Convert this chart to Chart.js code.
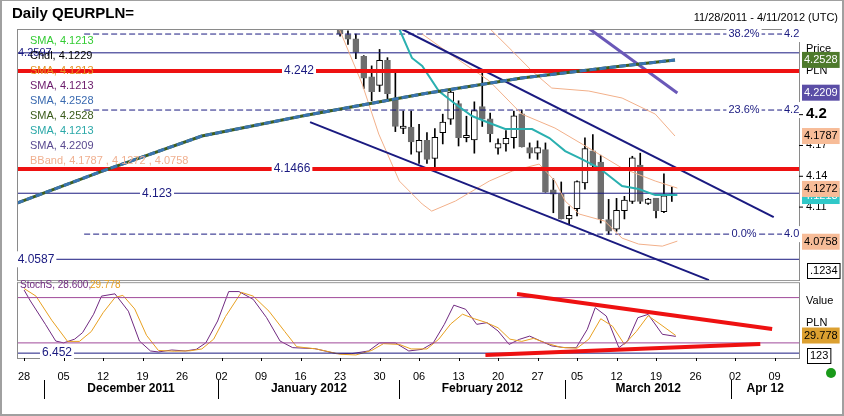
<!DOCTYPE html>
<html><head><meta charset="utf-8">
<script src="https://cdn.jsdelivr.net/npm/chart.js@4"></script>
<style>html,body{margin:0;padding:0;background:#fff}#w{position:relative;width:844px;height:416px;box-sizing:border-box;border:2px solid #a0a0a0;border-top:1px solid #a0a0a0}canvas{position:absolute;left:0;top:0}</style>
</head><body><div id="w"><canvas id="c" width="844" height="416"></canvas></div>
<script>
// ---- data ----
const dayLabels=['28','05','12','19','26','02','09','16','23','30','06','13','20','27','05','12','19','26','02','09'];
const monthNames=['December 2011','January 2012','February 2012','March 2012','Apr 12'];
const monthStartIdx=[3,25,48,69,90];
const candleStart=40;
const opens =[4.282,4.277,4.273,4.256,4.236,4.228,4.252,4.215,4.186,4.187,4.163,4.174,4.157,4.182,4.195,4.210,4.177,4.175,4.207,4.195,4.167,4.171,4.177,4.200,4.167,4.162,4.165,4.126,4.122,4.098,4.108,4.133,4.164,4.153,4.097,4.088,4.106,4.115,4.150,4.113,4.118,4.105,4.121];
const highs =[4.283,4.281,4.278,4.257,4.247,4.263,4.255,4.240,4.203,4.203,4.190,4.182,4.186,4.200,4.225,4.213,4.198,4.212,4.240,4.201,4.176,4.184,4.203,4.204,4.172,4.174,4.172,4.137,4.134,4.110,4.135,4.177,4.180,4.160,4.117,4.118,4.120,4.159,4.162,4.118,4.118,4.142,4.129];
const lows  =[4.276,4.268,4.254,4.225,4.213,4.222,4.215,4.183,4.181,4.161,4.152,4.152,4.148,4.171,4.190,4.169,4.173,4.162,4.188,4.173,4.161,4.164,4.167,4.168,4.157,4.156,4.124,4.104,4.098,4.093,4.101,4.127,4.145,4.094,4.083,4.086,4.098,4.113,4.113,4.112,4.099,4.104,4.115];
const closes=[4.278,4.273,4.260,4.235,4.222,4.252,4.220,4.188,4.188,4.173,4.174,4.156,4.177,4.192,4.221,4.177,4.179,4.203,4.195,4.181,4.171,4.176,4.198,4.168,4.162,4.167,4.124,4.122,4.098,4.101,4.134,4.166,4.150,4.098,4.086,4.106,4.116,4.157,4.115,4.117,4.106,4.120,4.122];
const smaLong=[[-0.9,4.1134],[9.9,4.1446],[22.5,4.1787],[35.2,4.1982],[50.4,4.2196],[63.0,4.2352],[75.7,4.2469],[82.4,4.2527]];
const smaTeal=[[47.5,4.2829],[49.1,4.2547],[50.4,4.2469],[52.5,4.2225],[54.6,4.2099],[56.7,4.1982],[58.9,4.1914],[60.9,4.1855],[64.3,4.1855],[66.5,4.1767],[68.5,4.1641],[70.6,4.1563],[72.8,4.1475],[75.7,4.1300],[77.8,4.1271],[79.9,4.1212],[82.7,4.1212]];
const smaPurple=[[71.6,4.2829],[82.7,4.2206]];
const bbUpper=[[59,4.2829],[61.8,4.2615],[64.3,4.242],[66.8,4.2254],[71.5,4.2225],[75.7,4.2157],[79.9,4.2001],[82.4,4.1787]];
const bbMid=[[50.4,4.278],[54.6,4.255],[58.9,4.2323],[63,4.2001],[67.2,4.1865],[71.5,4.167],[75.7,4.1475],[79.9,4.1349],[82.7,4.128]];
const bbLower=[[39.9,4.2829],[42.8,4.2293],[44.9,4.1806],[47.5,4.1349],[50.4,4.1125],[51.6,4.1056],[54.6,4.1154],[58.9,4.1349],[61.8,4.1446],[65.2,4.1514],[67.2,4.1349],[68.5,4.1154],[70.3,4.1027],[73.5,4.0959],[75.7,4.0793],[77.8,4.0735],[80.8,4.0715],[82.7,4.0764]];
const channelUpper=[[47.8,4.2829],[94.9,4.0998]];
const channelLower=[[36.2,4.1923],[86.7,4.0384]];
const redLevels=[4.242,4.1466];
const navyLevels=[4.2597,4.123,4.0587];
const fibLevels=[4.278,4.204,4.0832];
const fibNames=['38.2%','23.6%','0.0%'];
const stochK=[[0,90],[0.8,75.5],[2.7,44.6],[4,22.5],[5,20],[6.4,25],[7.4,33.6],[8.8,58],[9.8,82],[11.5,85],[13.2,62],[14.6,22.5],[16,9.3],[17,8],[18.7,10.6],[20.4,9.3],[21.8,11.5],[23,20],[24.5,49],[25.9,88],[27.2,88],[29,77.7],[30.7,53.4],[32.4,22.5],[34,13.7],[36.8,12.4],[39.5,5.8],[41.5,5.8],[43.6,9.3],[45,20],[47,20],[48.7,9.3],[50.4,11.5],[51.8,20],[53.2,44.6],[54.4,70],[55.9,64.5],[57.3,44.6],[58.6,46.8],[60,35.8],[61.4,18],[62.7,24.7],[64,29],[65.4,22.5],[66.8,16],[68.5,13.7],[69.9,13.7],[71.3,38],[72.3,66.7],[73.7,55.6],[75.3,13.7],[76.4,22.5],[77.7,53.4],[79,57.8],[80.8,31.4],[82.5,28.6]];
const stochD=[[0,92],[1.5,82],[3.5,50],[5.5,22],[7,22],[8.5,35],[10,60],[11.5,80],[12.5,83],[14,65],[15.5,30],[17,10],[19,9],[21,9.5],[22.5,12],[24,25],[25.5,55],[27.5,87],[29,82],[31,62],[33,35],[34.5,15],[37,12],[40,5],[42,4],[44,10],[45.5,19],[47.5,18],[49,12],[51,12],[52.5,25],[54,45],[55.5,58],[57,52],[58.5,47],[60,40],[61.5,25],[63,22],[64.5,26],[66,20],[68,14],[70,13],[71.5,25],[73,52],[74.5,42],[76,18],[77.5,35],[79,56],[80.5,45],[82.5,29.8]];
const stochLevels=[80,20,6.452];
const stochRedUpper=[[62.4,84.8],[94.7,38.4]];
const stochRedLower=[[58.4,4],[93.2,18.5]];

// ---- build ----
const XMIN=-0.9,XMAX=98.1;
const P=a=>a.map(p=>({x:p[0],y:p[1]}));
const line=(data,color,w,axis,extra)=>Object.assign({type:'line',data,borderColor:color,borderWidth:w,pointRadius:0,tension:0,fill:false,yAxisID:axis,order:1},extra||{});
const ds=[];
ds.push(line(P(bbUpper),'#f2b08a',1,'y'));
ds.push(line(P(bbMid),'#f2b08a',1,'y'));
ds.push(line(P(bbLower),'#f2b08a',1,'y'));
fibLevels.forEach(v=>ds.push(line([{x:7.6,y:v},{x:XMAX,y:v}],'#1a1a80',1,'y',{borderDash:[6,3]})));
navyLevels.forEach(v=>ds.push(line([{x:XMIN,y:v},{x:XMAX,y:v}],'#1a1a80',1,'y')));
const wick=[],body=[],bodyBg=[],bodyBd=[];
opens.forEach((o,i)=>{const x=candleStart+i;wick.push({x,y:[lows[i],highs[i]]});body.push({x,y:[Math.min(o,closes[i]),Math.max(o,closes[i])+0.0004]});const up=closes[i]>=o;bodyBg.push(up?'#ffffff':'#6e6e6e');bodyBd.push(up?'#000000':'#6e6e6e');});
ds.push({type:'bar',data:wick,backgroundColor:'#000',barThickness:1,grouped:false,yAxisID:'y',order:3});
ds.push({type:'bar',data:body,backgroundColor:bodyBg,borderColor:bodyBd,borderWidth:1,borderSkipped:false,barThickness:6,grouped:false,yAxisID:'y',order:2});
ds.push(line(P(smaLong),'#3a74b0',3,'y',{order:-2,borderDash:[7,3]}));
ds.push(line(P(smaLong),'#3d5e1e',3,'y',{order:-1}));
redLevels.forEach(v=>ds.push(line([{x:XMIN,y:v},{x:XMAX,y:v}],'#ee1111',4,'y',{order:0})));
ds.push(line(P(smaTeal),'#2ab0b0',2,'y',{order:0}));
ds.push(line(P(smaPurple),'#6a58b8',3,'y',{order:0}));
ds.push(line(P(channelUpper),'#1a1a80',2,'y',{order:0}));
ds.push(line(P(channelLower),'#1a1a80',2,'y',{order:0}));
stochLevels.forEach((v,i)=>ds.push(line([{x:XMIN,y:v},{x:XMAX,y:v}],i<2?'#a04a9a':'#1a1a80',1,'y2')));
ds.push(line(P(stochD),'#e8a020',1,'y2'));
ds.push(line(P(stochK),'#702a80',1,'y2'));
ds.push(line(P(stochRedUpper),'#ee1111',4,'y2',{order:0}));
ds.push(line(P(stochRedLower),'#ee1111',4,'y2',{order:0}));

const F='"Liberation Sans", Arial, sans-serif';
const deco={id:'deco',
 afterDatasetsDraw(c){
  const g=c.ctx,a=c.chartArea,x=c.scales.x,y=c.scales.y,y2=c.scales.y2;
  g.save();
  const txt=(t,px,py,col,font,align,bg,box)=>{g.font=font||('11px '+F);g.textAlign=align||'left';g.textBaseline='middle';
   if(bg||box){const w=g.measureText(t).width;let l=align==='center'?px-w/2:align==='right'?px-w:px;if(bg){g.fillStyle=bg;g.fillRect(l-2,py-8,w+4,16);}if(box){g.strokeStyle='#000';g.lineWidth=1;g.strokeRect(l-2.5,py-7.5,w+5,15);}}
   g.fillStyle=col;g.fillText(t,px,py);};
  const pb=y.getPixelForValue(4.0384);
  g.strokeStyle='#8a8a8a';g.lineWidth=1;
  g.strokeRect(a.left+0.5,a.top+0.5,a.right-a.left,pb-a.top);
  g.strokeRect(a.left+0.5,pb+2.5,a.right-a.left,a.bottom-pb-2);
  g.fillStyle='#fff';g.fillRect(a.left+1,pb+1,a.right-a.left,1);
  const gap=(t,px,v,sc)=>txt(t,px,sc.getPixelForValue(v),'#1a1a80','12px '+F,'center','#fff');
  gap('4.242',297,4.242,y);gap('4.1466',290,4.1466,y);gap('4.123',155,4.123,y);
  txt('4.2597',16,y.getPixelForValue(4.2597),'#1a1a80','11px '+F);
  gap('4.0587',34,4.0587,y);
  fibNames.forEach((n,i)=>{const py=y.getPixelForValue(fibLevels[i]);txt(n,742,py,'#1a1a80','11px '+F,'center','#fff');txt(i==2?'4.0':'4.2',782,py,'#1a1a80','11px '+F,'left','#fff');});
  gap('6.452',55,6.452,y2);
  const leg=[['SMA, 4.1213','#33cc33'],['Chdl, 4.1229','#000'],['SMA, 4.1213','#e69020'],['SMA, 4.1213','#6a1a6a'],['SMA, 4.2528','#3a6ab0'],['SMA, 4.2528','#3a5a1a'],['SMA, 4.1213','#2aa8a8'],['SMA, 4.2209','#5a4a90'],['BBand, 4.1787 , 4.1272 , 4.0758','#f0b090']];
  leg.forEach((l,i)=>txt(l[0],28,40+i*15,l[1],'11px '+F));
  txt('StochS, 28.600,',18,y2.getPixelForValue(96),'#702a80','10px '+F);
  txt('29.778',88,y2.getPixelForValue(96),'#e8a020','10px '+F);
  const R=a.right+3;
  [[4.17],[4.14],[4.11]].forEach(v=>{const py=y.getPixelForValue(v[0]);g.fillStyle='#000';g.fillRect(a.right,py,4,1);txt(String(v[0]),R+4,py,'#000','11px '+F);});
  g.fillStyle='#000';g.fillRect(a.right,y.getPixelForValue(4.2),4,1);
  txt('4.2',R+4,y.getPixelForValue(4.2),'#000','bold 15px '+F);
  txt('Price',R+4,48,'#000','11px '+F);
  txt('PLN',R+4,70,'#000','11px '+F);
  const bx=(t,v,bg,col)=>txt(t,R+2,y.getPixelForValue(v),col,'11px '+F,'left',bg);
  bx('4.1213',4.1203,'#30c8c8','#fff');
  bx('4.2528',4.2528,'#4e7a2c','#fff');bx('4.2209',4.2209,'#5b4ea6','#fff');
  bx('4.1787',4.1787,'#f7bc98','#000');bx('4.1272',4.1272,'#f7bc98','#000');bx('4.0758',4.0758,'#f7bc98','#000');
  txt('.1234',R+8,270,'#000','11px '+F,'left','#fff',true);
  txt('Value',R+4,300,'#000','11px '+F);txt('PLN',R+4,322,'#000','11px '+F);
  txt('29.778',R+2,y2.getPixelForValue(29.778),'#000','11px '+F,'left','#dca030');
  txt('123',R+8,355,'#000','11px '+F,'left','#fff',true);
  txt('Daily QEURPLN=',10,13,'#000','bold 15px '+F);
  txt('11/28/2011 - 4/11/2012 (UTC)',836,17,'#000','11px '+F,'right');
  monthStartIdx.forEach((m,i)=>{const px=Math.round(x.getPixelForValue(m-0.5))+0.5;g.strokeStyle='#000';g.beginPath();g.moveTo(px,379);g.lineTo(px,398);g.stroke();
   const nx=i<4?x.getPixelForValue(monthStartIdx[i+1]-0.5):a.right;txt(monthNames[i],(px+nx)/2,388,'#000','bold 12px '+F,'center');});
  for(let k=0;k<dayLabels.length;k++){const px=Math.round(x.getPixelForValue(k*5))+0.5;g.fillStyle='#000';g.fillRect(px-0.5,a.bottom,1,3);}
  g.fillStyle='#1a9a1a';g.beginPath();g.arc(829,372,5,0,Math.PI*2);g.fill();
  g.restore();
 }};
new Chart(document.getElementById('c'),{
 data:{datasets:ds},
 options:{responsive:false,animation:false,
  layout:{padding:{left:15,right:47,top:28,bottom:0}},
  plugins:{legend:{display:false},tooltip:{enabled:false}},
  scales:{
   x:{type:'linear',offset:false,min:XMIN,max:XMAX,grid:{display:false,offset:false},border:{display:false},
      afterBuildTicks:s=>{s.ticks=dayLabels.map((d,i)=>({value:i*5}));},
      afterFit:s=>{s.height=59;},
      ticks:{autoSkip:false,maxRotation:0,padding:4,color:'#000',font:{family:F,size:11},callback:(v)=>dayLabels[Math.round(v/5)]}},
   y:{min:3.9626,max:4.2829,display:false},
   y2:{min:0,max:435.8,display:false}
  }},
 plugins:[deco]});
</script></body></html>
